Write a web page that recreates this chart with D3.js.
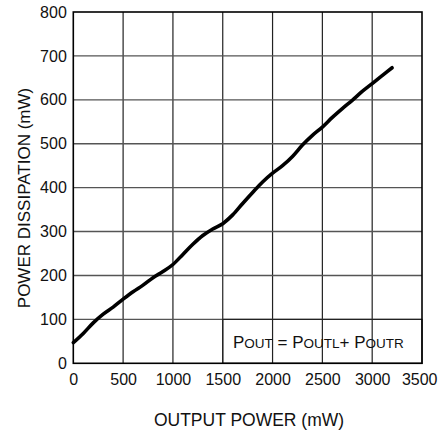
<!DOCTYPE html>
<html>
<head>
<meta charset="utf-8">
<script src="https://cdn.jsdelivr.net/npm/d3@7"></script>
<style>
html,body{margin:0;padding:0;background:#fff;}
svg{display:block;font-family:"Liberation Sans",Arial,sans-serif;}
</style>
</head>
<body>
<svg id="chart" width="438" height="432"></svg>
<script>
const outputPower = [0,100,200,300,400,500,600,700,800,900,1000,1100,1200,1300,1400,1500,1600,1700,1800,1900,2000,2100,2200,2300,2400,2500,2600,2700,2800,2900,3000,3100,3200];
const powerDissipation = [47,68,92,112,128,146,163,178,195,209,225,248,271,291,306,318,338,364,389,413,433,450,471,497,519,538,560,580,599,619,637,655,673];
const xTicks = [0,500,1000,1500,2000,2500,3000,3500];
const yTicks = [0,100,200,300,400,500,600,700,800];
const xTitle = "OUTPUT POWER (mW)";
const yTitle = "POWER DISSIPATION (mW)";

const svg = d3.select("#chart");
const m = {left:73.3, right:422, top:12, bottom:363.3};
const x = d3.scaleLinear().domain([0,3500]).range([m.left,m.right]);
const y = d3.scaleLinear().domain([0,800]).range([m.bottom,m.top]);

// grid
svg.append("g").selectAll("line").data(xTicks.slice(1,-1)).join("line")
  .attr("x1",d=>x(d)).attr("x2",d=>x(d)).attr("y1",m.top).attr("y2",m.bottom)
  .attr("stroke","#222").attr("stroke-width",1.2);
svg.append("g").selectAll("line").data(yTicks.slice(1,-1)).join("line")
  .attr("y1",d=>y(d)).attr("y2",d=>y(d)).attr("x1",m.left).attr("x2",m.right)
  .attr("stroke","#555").attr("stroke-width",1.4);

// legend box
svg.append("rect").attr("x",x(1500)).attr("y",y(100)).attr("width",x(3500)-x(1500)).attr("height",y(0)-y(100))
  .attr("fill","none").attr("stroke","#222").attr("stroke-width",1.2);

// frame
svg.append("rect").attr("x",m.left).attr("y",m.top).attr("width",m.right-m.left).attr("height",m.bottom-m.top)
  .attr("fill","none").attr("stroke","#000").attr("stroke-width",1.6);

// curve
const pts = outputPower.map((v,i)=>[v,powerDissipation[i]]);
svg.append("path").datum(pts)
  .attr("d", d3.line().x(d=>x(d[0])).y(d=>y(d[1])).curve(d3.curveMonotoneX))
  .attr("fill","none").attr("stroke","#000").attr("stroke-width",3.6).attr("stroke-linecap","round");

// axes via d3
const xAxis = svg.append("g").attr("transform",`translate(0,${m.bottom})`)
  .call(d3.axisBottom(x).tickValues(xTicks).tickSize(0).tickPadding(10).tickFormat(d3.format("d")));
xAxis.select(".domain").remove();
xAxis.selectAll("text").attr("font-size",16).attr("fill","#111").attr("font-family","Liberation Sans, Arial, sans-serif");
xAxis.selectAll(".tick").filter(d=>d===3500).select("text").attr("text-anchor","end").attr("x",437-x(3500)+0);

const yAxis = svg.append("g").attr("transform",`translate(${m.left},0)`)
  .call(d3.axisLeft(y).tickValues(yTicks).tickSize(0).tickPadding(6.5).tickFormat(d3.format("d")));
yAxis.select(".domain").remove();
yAxis.selectAll("text").attr("font-size",16).attr("fill","#111").attr("font-family","Liberation Sans, Arial, sans-serif");

// titles
svg.append("text").attr("x",249).attr("y",426).attr("text-anchor","middle")
  .attr("font-size",17.5).attr("fill","#111").text(xTitle);
svg.append("text").attr("transform",`translate(30,198) rotate(-90)`).attr("text-anchor","middle")
  .attr("font-size",17).attr("fill","#111").text(yTitle);

// legend text
const leg = svg.append("text").attr("x",233).attr("y",347.5).attr("fill","#111");
const parts = [["P",17],["OUT",13.5],[" = ",17],["P",17],["OUTL",13.5],["+ ",17],["P",17],["OUTR",13.5]];
parts.forEach(p=>leg.append("tspan").attr("font-size",p[1]).text(p[0]));
</script>
</body>
</html>
